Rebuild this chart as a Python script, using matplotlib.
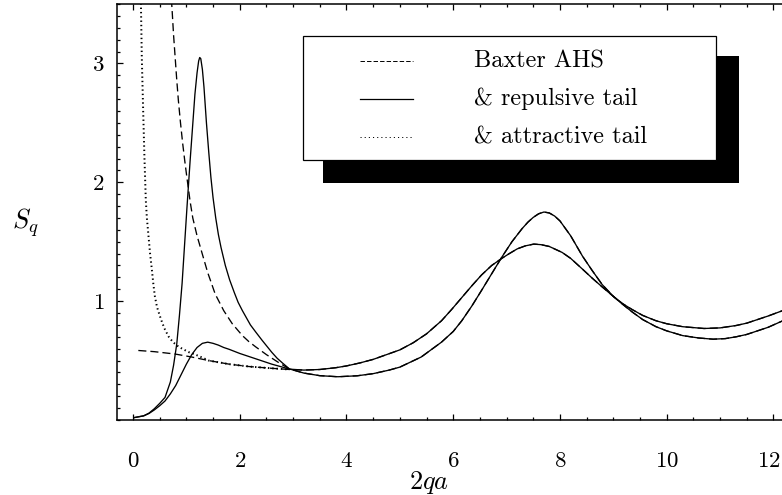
#!/usr/bin/env python

import matplotlib
matplotlib.use('Agg')
import matplotlib.pyplot as plt
from matplotlib.patches import Rectangle
from matplotlib.ticker import MultipleLocator
from matplotlib.transforms import ScaledTranslation

# values (q in units of 2qa)
# set A: strongly structured at low q
rep_a_x = [0.02, 0.2, 0.3, 0.4, 0.5, 0.6, 0.7, 0.76, 0.82, 0.87, 0.92, 1.01,
           1.07, 1.12, 1.16, 1.2, 1.23, 1.25, 1.27, 1.30, 1.33, 1.376, 1.42,
           1.46, 1.50, 1.55, 1.60, 1.65, 1.73, 1.81, 1.9, 1.97, 2.05, 2.2,
           2.3, 2.42, 2.6, 2.7, 2.8, 2.93, 3.2, 3.5, 3.84, 4.2, 4.5, 4.8, 5.0,
           5.4, 5.78, 6.0, 6.16, 6.35, 6.53, 6.72, 6.91, 7.1, 7.29, 7.4, 7.5,
           7.6, 7.7, 7.8, 7.9, 8.0, 8.2, 8.42, 8.6, 8.79, 9.0, 9.17, 9.35,
           9.55, 9.8, 10.0, 10.3, 10.6, 10.87, 11.1, 11.3, 11.5, 11.7, 11.9,
           12.2]
rep_a_y = [0.02, 0.035, 0.058, 0.095, 0.14, 0.19, 0.32, 0.46, 0.64, 0.88,
           1.15, 1.78, 2.18, 2.49, 2.74, 2.92, 3.02, 3.05, 3.04, 2.95, 2.80,
           2.50, 2.25, 2.04, 1.87, 1.70, 1.56, 1.45, 1.30, 1.18, 1.07, 0.99,
           0.92, 0.80, 0.74, 0.67, 0.57, 0.52, 0.48, 0.43, 0.395, 0.373,
           0.364, 0.372, 0.39, 0.42, 0.445, 0.53, 0.655, 0.745, 0.835, 0.96,
           1.09, 1.23, 1.37, 1.50, 1.61, 1.665, 1.705, 1.735, 1.75, 1.742,
           1.716, 1.675, 1.55, 1.38, 1.26, 1.14, 1.04, 0.975, 0.91, 0.845,
           0.785, 0.75, 0.71, 0.69, 0.68, 0.685, 0.70, 0.72, 0.75, 0.78, 0.84]

ahs_a_x = [0.66, 0.70, 0.73, 0.76, 0.79, 0.82, 0.85, 0.89, 0.93, 0.97, 1.01,
           1.07, 1.12, 1.2, 1.29, 1.4, 1.54, 1.7, 1.86, 2.05, 2.17, 2.3, 2.5,
           2.74, 2.93, 3.2, 3.5, 3.84, 4.2, 4.5, 4.8, 5.0, 5.4, 5.78, 6.0,
           6.16, 6.35, 6.53, 6.72, 6.91, 7.1, 7.29, 7.4, 7.5, 7.6, 7.7, 7.8,
           7.9, 8.0, 8.2, 8.42, 8.6, 8.79, 9.0, 9.17, 9.35, 9.55, 9.8, 10.0,
           10.3, 10.6, 10.87, 11.1, 11.3, 11.5, 11.7, 11.9, 12.2]
ahs_a_y = [3.95, 3.65, 3.47, 3.24, 3.05, 2.86, 2.69, 2.50, 2.33, 2.18, 2.04,
           1.84, 1.70, 1.55, 1.41, 1.24, 1.06, 0.92, 0.81, 0.71, 0.66, 0.615,
           0.55, 0.48, 0.43, 0.395, 0.373, 0.364, 0.372, 0.39, 0.42, 0.445,
           0.53, 0.655, 0.745, 0.835, 0.96, 1.09, 1.23, 1.37, 1.50, 1.61,
           1.665, 1.705, 1.735, 1.75, 1.742, 1.716, 1.675, 1.55, 1.38, 1.26,
           1.14, 1.04, 0.975, 0.91, 0.845, 0.785, 0.75, 0.71, 0.69, 0.68,
           0.685, 0.70, 0.72, 0.75, 0.78, 0.84]

# set B: weakly structured at low q
rep_b_x = [0.02, 0.2, 0.3, 0.4, 0.5, 0.6, 0.7, 0.8, 0.9, 1.0, 1.1, 1.2, 1.3,
           1.4, 1.5, 1.6, 1.7, 1.8, 2.0, 2.2, 2.4, 2.6, 2.8, 2.93, 3.2, 3.5,
           3.8, 4.0, 4.25, 4.5, 4.75, 5.0, 5.25, 5.5, 5.78, 5.97, 6.16, 6.35,
           6.53, 6.72, 6.91, 7.05, 7.2, 7.35, 7.51, 7.65, 7.8, 8.04, 8.2,
           8.42, 8.6, 8.79, 9.0, 9.17, 9.35, 9.55, 9.8, 10.0, 10.3, 10.7, 11.0,
           11.3, 11.5, 11.7, 11.9, 12.2]
rep_b_y = [0.02, 0.035, 0.055, 0.085, 0.12, 0.16, 0.22, 0.29, 0.38, 0.47,
           0.55, 0.61, 0.645, 0.655, 0.645, 0.63, 0.61, 0.595, 0.56, 0.53,
           0.50, 0.47, 0.445, 0.428, 0.42, 0.425, 0.44, 0.455, 0.48, 0.51,
           0.55, 0.59, 0.65, 0.725, 0.835, 0.93, 1.03, 1.13, 1.22, 1.30, 1.36,
           1.40, 1.44, 1.465, 1.48, 1.475, 1.46, 1.41, 1.36, 1.27, 1.195, 1.12,
           1.04, 0.98, 0.93, 0.88, 0.835, 0.81, 0.785, 0.77, 0.775, 0.795,
           0.815, 0.845, 0.875, 0.925]

ahs_b_x = [0.1, 0.4, 0.79, 1.1, 1.42, 1.8, 2.17, 2.6, 2.93, 3.2, 3.5, 3.8,
           4.0, 4.25, 4.5, 4.75, 5.0, 5.25, 5.5, 5.78, 5.97, 6.16, 6.35, 6.53,
           6.72, 6.91, 7.05, 7.2, 7.35, 7.51, 7.65, 7.8, 8.04, 8.2, 8.42, 8.6,
           8.79, 9.0, 9.17, 9.35, 9.55, 9.8, 10.0, 10.3, 10.7, 11.0, 11.3,
           11.5, 11.7, 11.9, 12.2]
ahs_b_y = [0.585, 0.575, 0.555, 0.53, 0.50, 0.47, 0.45, 0.435, 0.425, 0.42,
           0.425, 0.44, 0.455, 0.48, 0.51, 0.55, 0.59, 0.65, 0.725, 0.835,
           0.93, 1.03, 1.13, 1.22, 1.30, 1.36, 1.40, 1.44, 1.465, 1.48, 1.475,
           1.46, 1.41, 1.36, 1.27, 1.195, 1.12, 1.04, 0.98, 0.93, 0.88, 0.835,
           0.81, 0.785, 0.77, 0.775, 0.795, 0.815, 0.845, 0.875, 0.925]

att_b_x = [0.14, 0.15, 0.165, 0.19, 0.215, 0.24, 0.26, 0.29, 0.32, 0.35,
           0.38, 0.41, 0.45, 0.5, 0.55, 0.6, 0.67, 0.75, 0.83, 0.92, 1.05,
           1.17, 1.3, 1.42, 1.8, 2.17, 2.6, 2.93]
att_b_y = [3.8, 3.46, 3.05, 2.61, 2.2, 1.85, 1.70, 1.55, 1.40, 1.28, 1.15,
           1.04, 0.95, 0.88, 0.815, 0.76, 0.70, 0.655, 0.625, 0.60, 0.57,
           0.55, 0.525, 0.50, 0.47, 0.45, 0.435, 0.425]

x_ticks = [0, 2, 4, 6, 8, 10, 12]
y_ticks = [1, 2, 3]
legend_labels = ['Baxter AHS', '& repulsive tail', '& attractive tail']

plt.rcParams['font.family'] = ['cmr10', 'DejaVu Serif']
plt.rcParams['mathtext.fontset'] = 'cm'
plt.rcParams['axes.formatter.use_mathtext'] = True
plt.rcParams['lines.scale_dashes'] = False

DASH = (0, (5.8, 2.9))
DOT = (0, (1.0, 2.1))
LW = 0.95

fig = plt.figure(figsize=(7.82, 4.95), dpi=100)
ax = fig.add_axes([0.1496, 0.1515, 0.8504, 0.8404])

ax.plot(rep_a_x, rep_a_y, color='black', lw=LW)
ax.plot(rep_b_x, rep_b_y, color='black', lw=LW)
ax.plot(ahs_a_x, ahs_a_y, color='black', lw=LW, linestyle=DASH)
ax.plot(ahs_b_x, ahs_b_y, color='black', lw=LW, linestyle=DASH)
ax.plot(att_b_x, att_b_y, color='black', lw=1.4, linestyle=DOT)

ax.set_xlim(-0.3, 12.16)
ax.set_ylim(0, 3.5)

ax.set_xticks(x_ticks)
ax.xaxis.set_minor_locator(MultipleLocator(0.5))
ax.set_yticks(y_ticks)
ax.yaxis.set_minor_locator(MultipleLocator(0.1))
ax.tick_params(which='both', direction='in', top=True, right=False,
               width=0.9, labelsize=16.5)
ax.tick_params(which='major', length=4)
ax.tick_params(which='minor', length=2.3)
ax.tick_params(axis='x', which='major', pad=23)
ax.tick_params(axis='y', which='major', pad=9)
ax.spines['right'].set_visible(False)
for s in ['left', 'bottom', 'top']:
    ax.spines[s].set_linewidth(1.1)

# the last x label sits at the picture's right edge, nudge it inside
lab = ax.xaxis.get_major_ticks()[-1].label1
lab.set_transform(lab.get_transform() +
                  ScaledTranslation(-3 / 72, 0, fig.dpi_scale_trans))

ax.set_xlabel('$2qa$', fontsize=19)
ax.set_ylabel('$S_q$', fontsize=19, rotation=0, va='center', ha='center')
ax.yaxis.set_label_coords(-0.138, 0.475)
ax.xaxis.set_label_coords(0.47, -0.118)

# legend box with a solid drop shadow
tr = ax.transAxes
ax.add_patch(Rectangle((0.3098, 0.5697), 0.6255, 0.3053, transform=tr,
                       facecolor='black', edgecolor='none', clip_on=False,
                       zorder=5))
ax.add_patch(Rectangle((0.2797, 0.6255), 0.6211, 0.2985, transform=tr,
                       facecolor='white', edgecolor='black', lw=0.9,
                       clip_on=False, zorder=6))
styles = [(0, (3.2, 1.5)), '-', (0, (0.8, 2.2))]
rows = [0.862, 0.772, 0.680]
for label, ls, yy in zip(legend_labels, styles, rows):
    ax.plot([0.3654, 0.4451], [yy, yy], transform=tr, color='black',
            lw=0.9 if ls == '-' else 0.7, linestyle=ls, clip_on=False, zorder=7)
    ax.text(0.537, yy, label, transform=tr, fontsize=17.5, va='center',
            ha='left', zorder=7)

fig.savefig('out.png', dpi=100)
